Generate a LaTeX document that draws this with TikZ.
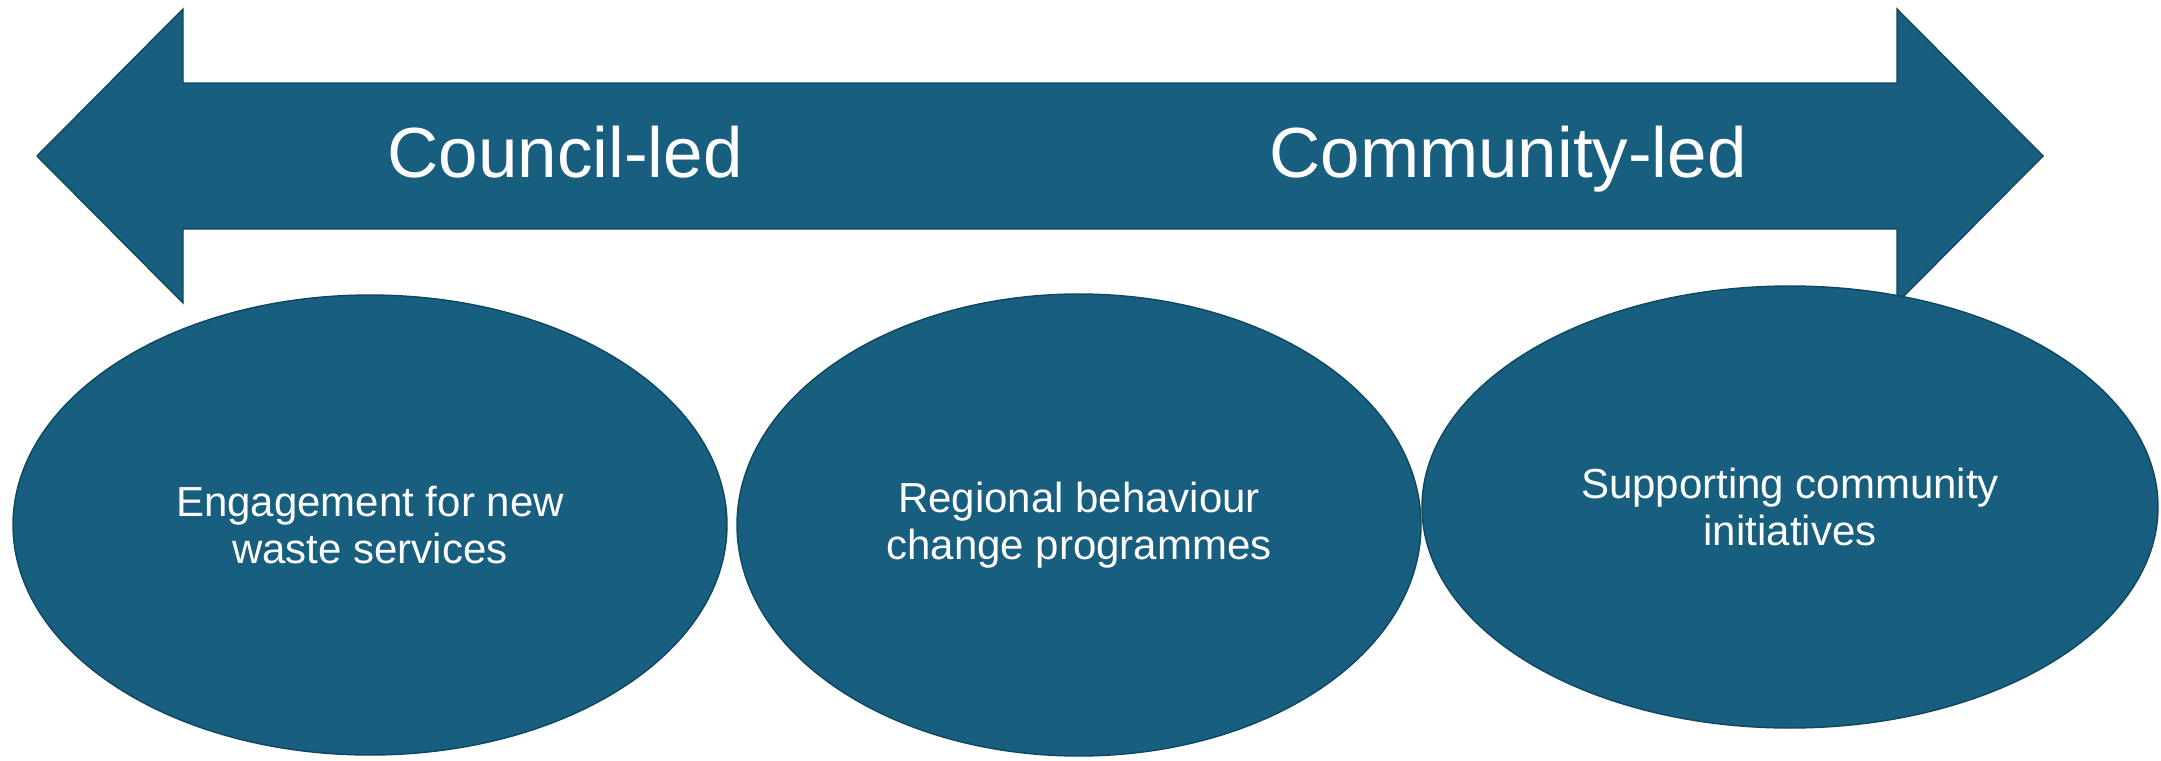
\documentclass[tikz,border=0pt]{standalone}
\usepackage{fontspec}
\setmainfont{Liberation Sans}
\usetikzlibrary{shapes.geometric}
\definecolor{tealblue}{RGB}{23,94,127}
\definecolor{tealedge}{RGB}{15,70,96}

\begin{document}
\begin{tikzpicture}[x=0.5pt,y=-0.5pt,
    blob/.style={ellipse, fill=tealblue, draw=tealedge, line width=0.7pt, inner sep=0pt,
      text=white, align=center, font=\fontsize{21}{23.5}\selectfont},
    bigtext/.style={text=white, anchor=base, font=\fontsize{35.5}{40}\selectfont}]
    \useasboundingbox (0,0) rectangle (2161,760); % page size
    \draw[fill=tealblue, draw=tealedge, line width=0.7pt] (37,156) -- (183,9) -- (183,83) -- (1897,83) -- (1897,9) -- (2043,156)
      -- (1897,303) -- (1897,229) -- (183,229) -- (183,303) -- cycle; % double arrow
    \node[bigtext] (council) at (565,177) {Council-led};
    \node[bigtext] (community) at (1508,177) {Community-led};
    \node[blob, minimum width=357pt, minimum height=230pt] (engage) at (370,525) {Engagement for new\\waste services};
    \node[blob, minimum width=342pt, minimum height=231pt] (regional) at (1079,525) {Regional behaviour\\change programmes};
    \node[blob, minimum width=368pt, minimum height=221pt] (support) at (1790,507) {Supporting community\\initiatives};
  \end{tikzpicture}
\end{document}
